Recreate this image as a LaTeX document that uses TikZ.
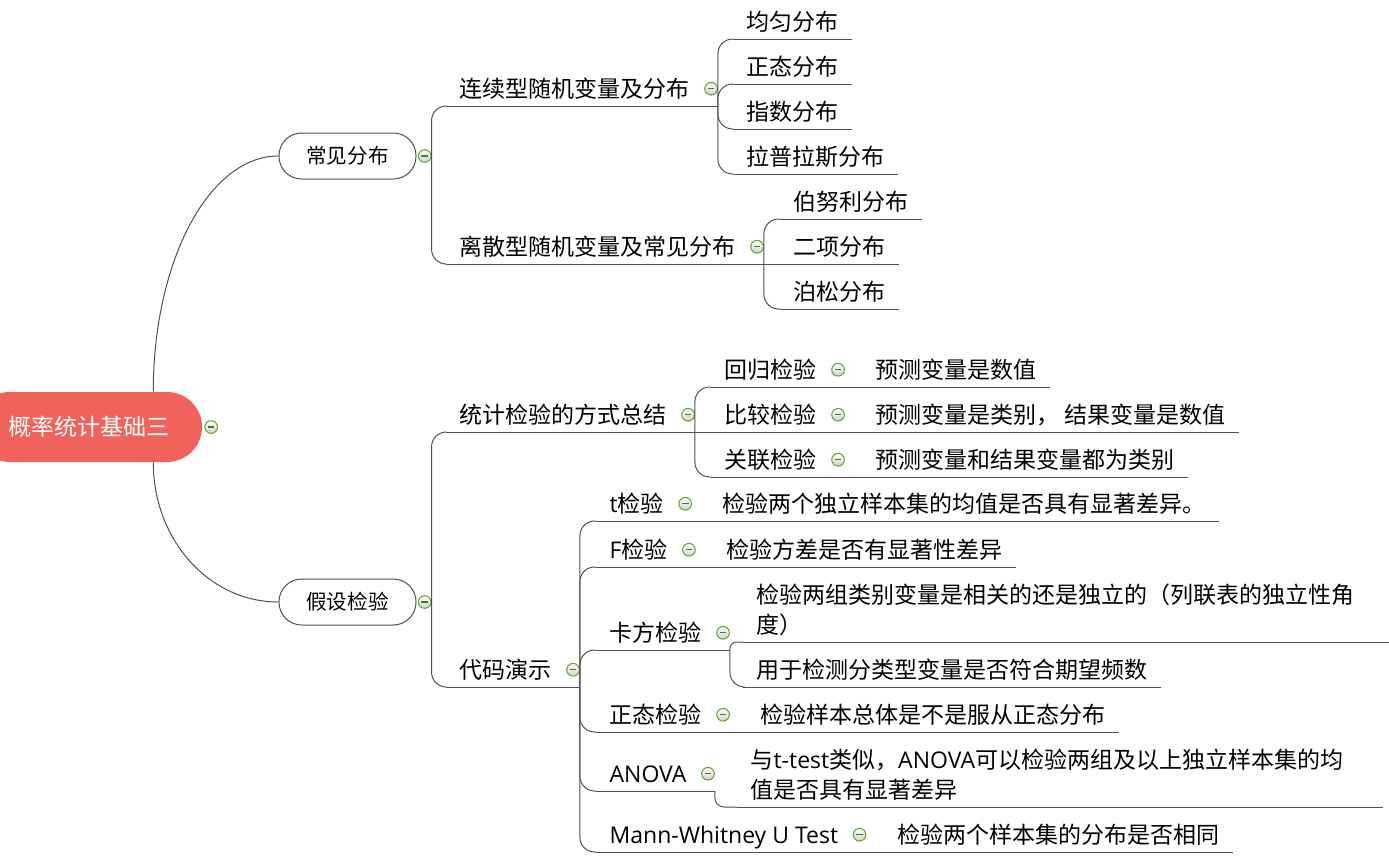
\documentclass[tikz,border=0pt]{standalone}
\usepackage{fontspec}
\setmainfont{Noto Sans CJK SC}
\newfontfamily\enfont{Open Sans}
\usetikzlibrary{positioning}

\definecolor{rootred}{RGB}{240,98,90}
\definecolor{foldgreen}{RGB}{98,166,52}
\definecolor{linegray}{RGB}{80,80,80}

\newcommand{\en}[1]{{\enfont #1}}
\newcommand{\lastdp}{\rule[-4pt]{0pt}{4pt}}

\tikzset{
  link/.style = {draw = linegray, line width = 0.75pt},
  fan/.style = {link, rounded corners = 11pt},
  topic/.style = {anchor = south west, inner xsep = 10pt, inner ysep = 2.25pt,
    text height = 17pt, text depth = 4pt,
    font = \fontsize{17.25}{22.5}\selectfont},
  wrapped/.style = {anchor = south west, inner xsep = 10pt, inner ysep = 2.25pt,
    text width = 463.75pt, align = left,
    font = \fontsize{17.25}{22.5}\selectfont},
  branch/.style = {draw = linegray, line width = 0.75pt, rounded corners = 17pt,
    minimum width = 102.75pt, minimum height = 34.5pt, inner sep = 0pt,
    font = \fontsize{15.4}{18}\selectfont},
  central/.style = {fill = rootred, text = white, rounded corners = 26.25pt,
    minimum width = 170.25pt, minimum height = 52.5pt, inner sep = 0pt,
    font = \fontsize{17.25}{20}\selectfont},
  fold/.style = {circle, draw = foldgreen, line width = 0.8pt, top color = white,
    bottom color = black!18, minimum size = 9.5pt, inner sep = 0pt,
    path picture = {\draw[foldgreen!75!black, line width = 0.8pt]
      ([xshift = -2.5pt]path picture bounding box.center) --
      ([xshift = 2.5pt]path picture bounding box.center);}}
}

\begin{document}
\begin{tikzpicture}[x = 0.75pt, y = -0.75pt]
  \useasboundingbox (0, 0) rectangle (1389, 857);

  % root and main branches
  \node[central] (R) at (88.5, 427) {概率统计基础三};
  \node[fold, right = 1.5pt of R] (Rf) {};

  \node[branch] (D) at (347.5, 156) {常见分布};
  \node[fold, right = 1pt of D] (Df) {};
  \node[branch] (H) at (347.5, 602) {假设检验};
  \node[fold, right = 1pt of H] (Hf) {};

  \draw[link] ([xshift = -36.75pt]R.north east) .. controls +(0, -130) and +(-70, 0) .. (D.west);
  \draw[link] ([xshift = -36.75pt]R.south east) .. controls +(0, 77) and +(-70, 0) .. (H.west);

  % distributions
  \node[topic] (C) at (446, 106) {连续型随机变量及分布};
  \node[fold, right = 0.75pt of C] (Cf) {};
  \node[topic] (S) at (446, 264) {离散型随机变量及常见分布};
  \node[fold, right = 0.75pt of S] (Sf) {};
  \draw[link] (C.south west) -- (Cf.east |- C.south);
  \draw[link] (S.south west) -- (Sf.east |- S.south);
  \draw[fan] (Df.east) |- (C.south west);
  \draw[fan] (Df.east) |- (S.south west);

  \foreach \txt/\y [count = \i] in {均匀分布/39, 正态分布/84, 指数分布/129, 拉普拉斯分布/174}{
    \node[topic] (C\i) at (733, \y) {\txt};
    \draw[link] (C\i.south west) -- (C\i.south east);
    \draw[fan] (Cf.east |- C.south) |- (C\i.south west);
  }
  \foreach \txt/\y/\s [count = \i] in {伯努利分布/219/fan, 二项分布/264/link, 泊松分布/309/fan}{
    \node[topic] (S\i) at (780, \y) {\txt};
    \draw[link] (S\i.south west) -- (S\i.south east);
    \draw[\s] (Sf.east |- S.south) |- (S\i.south west);
  }

  % hypothesis testing
  \node[topic] (T) at (446, 432) {统计检验的方式总结};
  \node[fold, right = 0.75pt of T] (Tf) {};
  \node[topic] (P) at (446, 687) {代码演示};
  \node[fold, right = 0.75pt of P] (Pf) {};
  \draw[link] (T.south west) -- (Tf.east |- T.south);
  \draw[link] (P.south west) -- (Pf.east |- P.south);
  \draw[fan] (Hf.east) |- (T.south west);
  \draw[fan] (Hf.east) |- (P.south west);

  \foreach \a/\b/\y/\s [count = \i] in {回归检验/预测变量是数值/387/fan,
      比较检验/{预测变量是类别， 结果变量是数值}/432/link,
      关联检验/预测变量和结果变量都为类别/477/fan}{
    \node[topic] (T\i) at (711, \y) {\a};
    \node[fold, right = 0.75pt of T\i] (Tf\i) {};
    \node[topic, right = 12.75pt of Tf\i] (Ta\i) {\b};
    \draw[\s] (Tf.east |- T.south) |- (T\i.south west);
    \draw[link] (T\i.south west) -- (Ta\i.south east);
  }

  % code demos
  \foreach \a/\b/\y/\n in {\en{t}检验/检验两个独立样本集的均值是否具有显著差异。/521/1,
      \en{F}检验/检验方差是否有显著性差异/567/2,
      正态检验/检验样本总体是不是服从正态分布/732/4,
      \en{Mann-Whitney U Test}/检验两个样本集的分布是否相同/852/6}{
    \node[topic] (M\n) at (596, \y) {\a};
    \node[fold, right = 0.75pt of M\n] (Mf\n) {};
    \node[topic, right = 12.75pt of Mf\n] (Ma\n) {\b};
    \draw[fan] (Pf.east |- P.south) |- (M\n.south west);
    \draw[link] (M\n.south west) -- (Ma\n.south east);
  }

  \node[topic] (M3) at (596, 650) {卡方检验};
  \node[fold, right = 0.75pt of M3] (Mf3) {};
  \node[wrapped] (Ma3) at (743, 642) {检验两组类别变量是相关的还是独立的（列联表的独立性角\\度）\lastdp};
  \node[topic] (Mb3) at (743, 687) {用于检测分类型变量是否符合期望频数};
  \draw[fan] (Pf.east |- P.south) |- (M3.south west);
  \draw[link] (M3.south west) -- (Mf3.east |- M3.south);
  \draw[fan, rounded corners = 5pt] (Mf3.east |- M3.south) |- (Ma3.south west);
  \draw[fan] (Mf3.east |- M3.south) |- (Mb3.south west);
  \draw[link] (Ma3.south west) -- (Ma3.south east);
  \draw[link] (Mb3.south west) -- (Mb3.south east);

  \node[topic] (M5) at (596, 791) {\en{ANOVA}};
  \node[fold, right = 0.75pt of M5] (Mf5) {};
  \node[wrapped] (Ma5) at (737, 807) {与\en{t-test}类似，\en{ANOVA}可以检验两组及以上独立样本集的均\\值是否具有显著差异\lastdp};
  \draw[fan] (Pf.east |- P.south) |- (M5.south west);
  \draw[link] (M5.south west) -- (Mf5.east |- M5.south);
  \draw[fan, rounded corners = 7pt] (Mf5.east |- M5.south) |- (Ma5.south west);
  \draw[link] (Ma5.south west) -- (Ma5.south east);
\end{tikzpicture}
\end{document}
